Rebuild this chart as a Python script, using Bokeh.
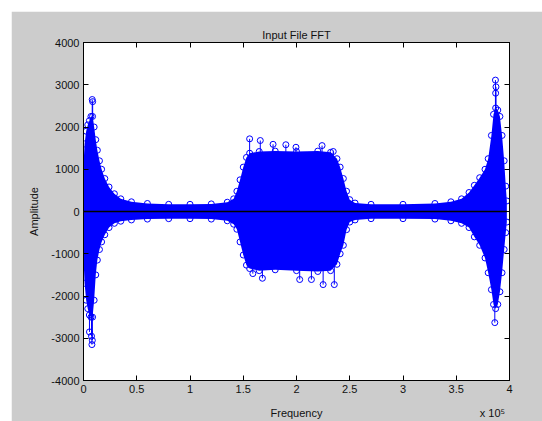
import numpy as np
from bokeh.plotting import figure
from bokeh.models import (Range1d, FixedTicker, LinearAxis,
                          CustomJSTickFormatter, Spacer)
from bokeh.layouts import row, column
from bokeh.embed import file_html
from bokeh.resources import INLINE

# ---- data ----
# envelope of the dense stem cloud (upper / lower) at sample frequencies
env_freq = [0, 1000, 2500, 4000, 5500, 7000, 8500, 10000, 11500, 13000, 15000,
            17000, 20000, 24000, 29000, 35000, 45000, 60000, 80000, 100000,
            120000, 135000, 141000, 144000, 147000, 150000, 153000, 156000,
            165000, 180000, 200000, 220000, 232000, 238000, 241000, 244000,
            247000, 250000, 255000, 270000, 300000, 330000, 345000, 355000,
            362000, 367000, 372000, 377000, 380000, 383000, 385000, 387000,
            389000, 391000, 393000, 395000, 396500, 397500]
env_upper = [1100, 1600, 1900, 2050, 2150, 2250, 2250, 2000, 1700, 1450, 1200,
             1000, 780, 580, 420, 300, 230, 190, 170, 170,
             180, 220, 300, 480, 750, 1050, 1280, 1380,
             1420, 1430, 1420, 1430, 1400, 1250, 1050, 780,
             480, 280, 200, 170, 170, 190, 230, 300,
             450, 620, 800, 1000, 1250, 1800, 2300, 2450,
             2400, 2250, 1800, 1200, 600, 250]
env_lower = [-1100, -1700, -2100, -2300, -2450, -2500, -2500, -2100, -1500, -1150, -900,
             -720, -550, -380, -280, -230, -200, -180, -170, -170,
             -180, -220, -300, -420, -720, -1030, -1270, -1350,
             -1400, -1380, -1400, -1420, -1400, -1250, -1000, -800,
             -430, -250, -200, -170, -170, -180, -220, -280,
             -380, -600, -800, -1100, -1450, -1850, -2200, -2300,
             -2200, -1900, -1450, -900, -500, -250]

# individually visible stems (outliers)
peak_freq = [8200, 8600, 7500, 7900, 8300, 5600, 156000, 166000, 178000, 190000,
             199500, 224000, 234500, 159000, 168000, 203000, 214000, 225000,
             235500, 386800, 387300, 387000, 386200]
peak_amp = [2650, 2600, -2950, -3150, -3050, -2850, 1720, 1680, 1590, 1580,
            1520, 1560, 1420, -1470, -1580, -1610, -1610, -1730,
            -1730, 3110, 2950, 2800, -2630]

x_ticks = [0, 50000, 100000, 150000, 200000, 250000, 300000, 350000, 400000]
y_ticks = [-4000, -3000, -2000, -1000, 0, 1000, 2000, 3000, 4000]

title_text = "Input File FFT"
x_label = "Frequency"
y_label = "Amplitude"
x_exponent = "x 10\u2075"

BLUE = "#0000ff"
FONT = "Liberation Sans"
TXT = "#111111"
GRAY = "#cccccc"

p = figure(width=531, height=410, output_backend="svg", toolbar_location=None,
           x_range=Range1d(x_ticks[0], x_ticks[-1]),
           y_range=Range1d(y_ticks[0], y_ticks[-1]),
           min_border_left=72, min_border_right=33,
           min_border_top=31, min_border_bottom=40,
           border_fill_color=GRAY, background_fill_color="white",
           title=title_text)
p.grid.visible = False
p.outline_line_color = "#000000"

p.title.align = "center"
p.title.text_font = FONT
p.title.text_font_size = "11px"
p.title.text_font_style = "normal"
p.title.text_color = TXT
p.title.standoff = 4

# dense stem cloud
p.varea(x=env_freq, y1=env_lower, y2=env_upper, fill_color=BLUE)
p.scatter(env_freq, env_upper, marker="circle", size=6, line_color=BLUE,
          fill_color=None, line_width=1)
p.scatter(env_freq, env_lower, marker="circle", size=6, line_color=BLUE,
          fill_color=None, line_width=1)

# outlier stems
p.segment(x0=peak_freq, y0=[0] * len(peak_freq), x1=peak_freq, y1=peak_amp,
          line_color=BLUE, line_width=1)
p.scatter(peak_freq, peak_amp, marker="circle", size=6, line_color=BLUE,
          fill_color=None, line_width=1)

# baseline
p.line([min(env_freq), max(env_freq)], [0, 0], line_color="#000000", line_width=1.5)


def style_axis(ax, ticks, labels=True):
    ax.ticker = FixedTicker(ticks=ticks)
    ax.major_tick_in = 5
    ax.major_tick_out = 0
    ax.minor_tick_line_color = None
    ax.axis_line_color = "#000000"
    ax.major_tick_line_color = "#000000"
    ax.major_label_text_font = FONT
    ax.major_label_text_color = TXT
    ax.major_label_text_font_size = "11px"
    if labels:
        ax.major_label_standoff = 4
    else:
        ax.formatter = CustomJSTickFormatter(code="return '';")
        ax.major_label_standoff = 0


style_axis(p.xaxis[0], x_ticks)
style_axis(p.yaxis[0], y_ticks)
p.xaxis[0].formatter = CustomJSTickFormatter(code="return (tick/1e5).toString();")
p.yaxis[0].formatter = CustomJSTickFormatter(code="return tick.toString();")
p.yaxis[0].axis_label = y_label
p.yaxis[0].axis_label_text_font = FONT
p.yaxis[0].axis_label_text_font_size = "11px"
p.yaxis[0].axis_label_text_font_style = "normal"
p.yaxis[0].axis_label_text_color = TXT
p.yaxis[0].axis_label_standoff = 8

top = LinearAxis()
style_axis(top, x_ticks, labels=False)
p.add_layout(top, "above")
right = LinearAxis()
style_axis(right, y_ticks, labels=False)
p.add_layout(right, "right")

# second row under the x axis: the axis title (centred) and the
# exponent note (right), sharing one line as in the original
mid_x = (x_ticks[0] + x_ticks[-1]) / 2
exp_x = x_ticks[-1] - 0.04 * (x_ticks[-1] - x_ticks[0])
label_axis = LinearAxis(ticker=FixedTicker(ticks=[mid_x, exp_x]))
label_axis.formatter = CustomJSTickFormatter(
    args=dict(xl=x_label, ex=x_exponent, mid=mid_x),
    code="return tick == mid ? xl : ex;")
label_axis.axis_line_color = None
label_axis.major_tick_line_color = None
label_axis.minor_tick_line_color = None
label_axis.major_label_standoff = 5
label_axis.major_label_text_font = FONT
label_axis.major_label_text_font_size = "11px"
label_axis.major_label_text_color = TXT
p.add_layout(label_axis, "below")

layout = row(Spacer(width=11), column(Spacer(height=11), p))
open("out.html", "w").write(file_html(layout, INLINE))
